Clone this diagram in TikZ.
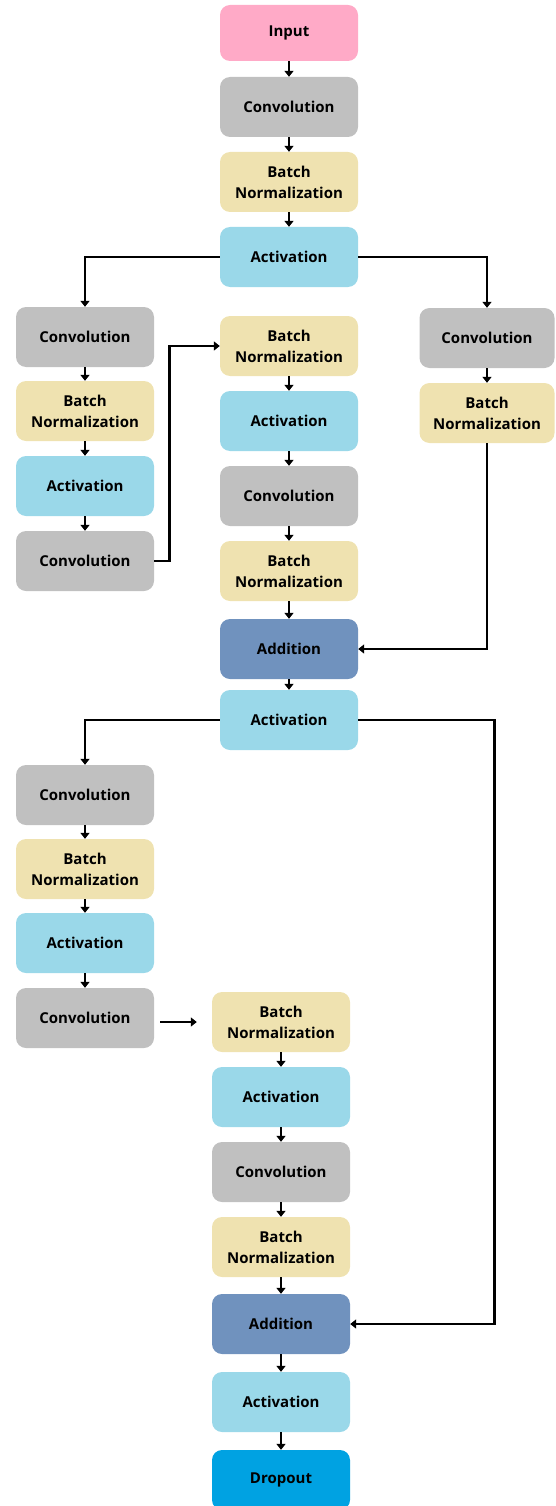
\documentclass[tikz,border=0pt]{standalone}
\usepackage{fontspec}
\setmainfont{Open Sans}
\usetikzlibrary{arrows.meta}

\definecolor{inputpink}{RGB}{255,170,199}
\definecolor{convgray}{RGB}{192,192,192}
\definecolor{bnyellow}{RGB}{239,226,176}
\definecolor{actblue}{RGB}{154,216,233}
\definecolor{addblue}{RGB}{112,146,190}
\definecolor{dropblue}{RGB}{0,162,226}

\tikzset{
  layer/.style={rounded corners=10pt, minimum width=138pt, minimum height=60pt,
    inner sep=0pt, align=center, font=\fontsize{15}{21}\selectfont\bfseries},
  inp/.style={layer, fill=inputpink, minimum height=56pt},
  conv/.style={layer, fill=convgray},
  bn/.style={layer, fill=bnyellow},
  act/.style={layer, fill=actblue},
  add/.style={layer, fill=addblue},
  drop/.style={layer, fill=dropblue},
  arr/.style={line width=2.6pt, -{Triangle[length=6pt,width=9pt]}}
}

\begin{document}
\begin{tikzpicture}[x=1pt, y=-1pt]
  \useasboundingbox (0,0) rectangle (555,1506);
  %
  % stem
  \node[inp]  (in)   at (289,33)  {Input};
  \node[conv] (c1)   at (289,107) {Convolution};
  \node[bn]   (bn1)  at (289,182) {Batch\\Normalization};
  \node[act]  (act1) at (289,257) {Activation};
  %
  % first block: left branch
  \node[conv] (lc1)   at (85,337) {Convolution};
  \node[bn]   (lbn1)  at (85,411) {Batch\\Normalization};
  \node[act]  (lact1) at (85,486) {Activation};
  \node[conv] (lc2)   at (85,561) {Convolution};
  %
  % first block: middle branch
  \node[bn]   (mbn1)  at (289,346) {Batch\\Normalization};
  \node[act]  (mact1) at (289,421) {Activation};
  \node[conv] (mc1)   at (289,496) {Convolution};
  \node[bn]   (mbn2)  at (289,571) {Batch\\Normalization};
  \node[add]  (add1)  at (289,649) {Addition};
  \node[act]  (act2)  at (289,720) {Activation};
  %
  % first block: shortcut
  \node[conv, minimum width=135pt] (rc1)  at (487,338) {Convolution};
  \node[bn,   minimum width=135pt] (rbn1) at (487,413) {Batch\\Normalization};
  %
  % second block: left branch
  \node[conv] (lc3)   at (85,795)  {Convolution};
  \node[bn]   (lbn2)  at (85,869)  {Batch\\Normalization};
  \node[act]  (lact2) at (85,943)  {Activation};
  \node[conv] (lc4)   at (85,1018) {Convolution};
  %
  % second block: middle branch
  \node[bn]   (mbn3)  at (281,1022) {Batch\\Normalization};
  \node[act]  (mact2) at (281,1097) {Activation};
  \node[conv] (mc2)   at (281,1172) {Convolution};
  \node[bn]   (mbn4)  at (281,1247) {Batch\\Normalization};
  \node[add]  (add2)  at (281,1324) {Addition};
  \node[act]  (act3)  at (281,1402) {Activation};
  \node[drop] (drop)  at (281,1480) {Dropout};
  %
  % straight arrows down the columns
  \foreach \a/\b in {in/c1, c1/bn1, bn1/act1,
                     lc1/lbn1, lbn1/lact1, lact1/lc2,
                     mbn1/mact1, mact1/mc1, mc1/mbn2, mbn2/add1, add1/act2,
                     rc1/rbn1,
                     lc3/lbn2, lbn2/lact2, lact2/lc4,
                     mbn3/mact2, mact2/mc2, mc2/mbn4, mbn4/add2, add2/act3, act3/drop}
    \draw[arr] (\a) -- (\b);
  %
  % branching and merging
  \draw[arr] (act1.west) -| (lc1.north);
  \draw[arr] (act1.east) -| (rc1.north);
  \draw[arr] (lc2.east) -- ++(15,0) |- (mbn1.west);
  \draw[arr] (rbn1.south) |- (add1.east);
  \draw[arr] (act2.west) -| (lc3.north);
  \draw[arr] (act2.east) -- ++(136,0) |- (add2.east);
  \draw[arr, shorten <=6pt, shorten >=15pt] (lc4.east |- mbn3.west) -- (mbn3.west);
\end{tikzpicture}
\end{document}
